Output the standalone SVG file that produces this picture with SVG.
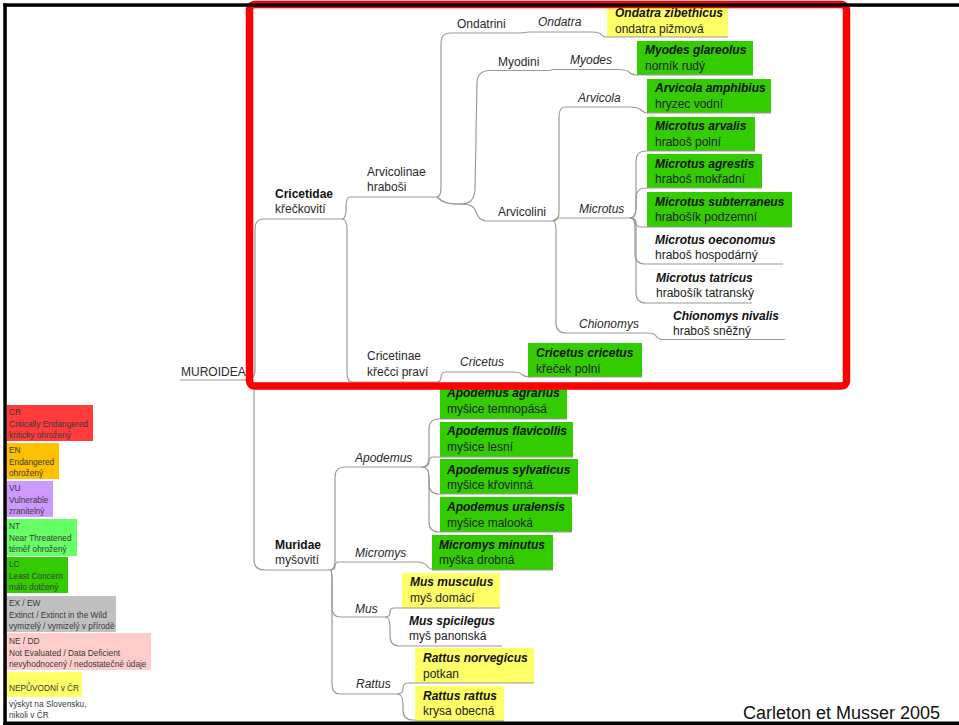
<svg xmlns="http://www.w3.org/2000/svg" width="959" height="725" viewBox="0 0 959 725">
<style>
.c{fill:none;stroke:#9a9a9a;stroke-width:1.2}
.u{stroke:#9a9a9a;stroke-width:1.2}
text{font-family:"Liberation Sans",Arial,sans-serif;font-size:12px;fill:#2a2a2a}
.sp{font-weight:bold;font-style:italic;fill:#111}
.cn{fill:#222}
.g{font-style:italic}
.b{font-weight:bold;fill:#111}
.lg{font-size:8.3px;fill:#3a3a3a}
.gr{fill:#33cc00}
.ye{fill:#ffff66}
</style>
<rect width="959" height="725" fill="#fff"/>

<g id="connectors">
<path class="c" d="M245,380 Q255,380 255,370 L255,229 Q255,219 263,219"/>
<path class="c" d="M245,380 Q254,380 254,390 L254,560 Q254,570 265,570"/>
<path class="c" d="M342,219 Q346,219 346,209 L346,207 Q346,197 350,197"/>
<path class="c" d="M342,219 Q347,219 347,229 L347,372 Q347,382 352,382"/>
<path class="c" d="M437,197 Q441,197 441,187 L441,43 Q441,33 450,33"/>
<path class="c" d="M437,197 C443,203 448,204 460,204 C470,204 474,200 475,190 L477,82 Q478,70.5 490,70.5"/>
<path class="c" d="M437,197 C443,203 448,204 460,204 C470,204 474,206 476,212 Q479,221 487,221"/>
<path class="c" d="M520,33 L530,32"/>
<path class="c" d="M592,32 Q599,32 601,34.5 Q603,37 607,37"/>
<path class="c" d="M550,70.5 L553,69.5"/>
<path class="c" d="M618,69.5 Q626,69.5 629,72 Q632,75 637,75"/>
<path class="c" d="M553,221 Q559,221 559,211 L559,117 Q559,107 565,107"/>
<path class="c" d="M553,221 Q556,218 559,218"/>
<path class="c" d="M553,221 Q556,221 556,231 L556,323 Q556,333 566,333 L570,333"/>
<path class="c" d="M630,107 Q638,107 641,110 Q644,113 648,113"/>
<path class="c" d="M630,218 Q636,218 636,208 L636,161 Q636,151 646,151 L647,151"/>
<path class="c" d="M630,218 Q636,218 636,208 L636,198 Q636,188 646,188 L647,188"/>
<path class="c" d="M630,218 Q636,218 636,222.5 Q636,227 640.5,227 L647,227"/>
<path class="c" d="M630,218 Q635,218 635,228 L635,254 Q635,264 645,264 L647,264"/>
<path class="c" d="M630,218 Q636,218 636,228 L636,293 Q636,303 646,303 L647,303"/>
<path class="c" d="M648,333 Q654,333 656,336 Q658,339.5 664,339.5"/>
<path class="c" d="M437,382 Q441,382 441,377 Q441,372 446,372"/>
<path class="c" d="M513,372 Q520,372 522,374.5 Q525,377 530,377"/>
<path class="c" d="M330,570 Q335,570 335,560 L335,477 Q335,467 345,467"/>
<path class="c" d="M330,570 Q335,570 335,566 Q335,562 339,562 L345,562"/>
<path class="c" d="M330,570 Q332,570 332,580 L332,607 Q332,617 340,617"/>
<path class="c" d="M330,570 Q332,570 332,580 L332,684 Q332,694 340,694"/>
<path class="c" d="M422,467 Q429,467 429,457 L429,429 Q429,419 439,419 L440,419"/>
<path class="c" d="M422,467 Q429,467 429,462 Q429,457 434,457 L440,457"/>
<path class="c" d="M422,467 Q429,467 429,477 L429,484 Q429,494 439,494 L440,494"/>
<path class="c" d="M422,467 Q429,467 429,477 L429,522 Q429,532 439,532 L440,532"/>
<path class="c" d="M417,562 Q424,562 427,566 Q430,570 437,570"/>
<path class="c" d="M385,617 Q390,617 390,612.5 Q390,608 394.5,608 L402,608"/>
<path class="c" d="M385,617 Q390,617 390,627 L390,636 Q390,646 400,646 L402,646"/>
<path class="c" d="M397,694 Q403,694 403,688.5 Q403,683 408.5,683 L415,683"/>
<path class="c" d="M397,694 Q403,694 403,704 L403,710 Q403,720 413,720 L415,720"/>
</g>

<g id="muroidea"><line class="u" x1="180" y1="380" x2="245" y2="380"/><text x="181" y="376">MUROIDEA</text></g>
<g id="cricetidae"><line class="u" x1="263" y1="219" x2="342" y2="219"/><text class="b" x="275" y="198">Cricetidae</text><text x="275" y="213">křečkovití</text></g>
<g id="muridae"><line class="u" x1="265" y1="570" x2="330" y2="570"/><text class="b" x="275" y="549">Muridae</text><text x="275" y="564">myšovití</text></g>
<g id="arvicolinae"><line class="u" x1="350" y1="197" x2="437" y2="197"/><text x="367" y="176">Arvicolinae</text><text x="367" y="191">hraboši</text></g>
<g id="cricetinae"><line class="u" x1="352" y1="382" x2="437" y2="382"/><text x="367" y="360">Cricetinae</text><text x="367" y="376">křečci praví</text></g>
<g id="ondatrini"><line class="u" x1="450" y1="33" x2="520" y2="33"/><text x="457" y="28">Ondatrini</text></g>
<g id="ondatra"><line class="u" x1="530" y1="32" x2="592" y2="32"/><text class="g" x="538" y="26">Ondatra</text></g>
<g id="myodini"><line class="u" x1="490" y1="70.5" x2="550" y2="70.5"/><text x="498" y="66">Myodini</text></g>
<g id="myodes"><line class="u" x1="553" y1="69.5" x2="618" y2="69.5"/><text class="g" x="570" y="64">Myodes</text></g>
<g id="arvicolini"><line class="u" x1="487" y1="221" x2="553" y2="221"/><text x="498" y="216">Arvicolini</text></g>
<g id="arvicola"><line class="u" x1="565" y1="107" x2="630" y2="107"/><text class="g" x="578" y="102">Arvicola</text></g>
<g id="microtus"><line class="u" x1="559" y1="218" x2="630" y2="218"/><text class="g" x="579" y="213">Microtus</text></g>
<g id="chionomys"><line class="u" x1="570" y1="333" x2="648" y2="333"/><text class="g" x="579" y="328">Chionomys</text></g>
<g id="cricetus"><line class="u" x1="446" y1="372" x2="513" y2="372"/><text class="g" x="460" y="366">Cricetus</text></g>
<g id="apodemus"><line class="u" x1="345" y1="467" x2="422" y2="467"/><text class="g" x="355" y="462">Apodemus</text></g>
<g id="micromys"><line class="u" x1="345" y1="562" x2="417" y2="562"/><text class="g" x="355" y="557">Micromys</text></g>
<g id="mus"><line class="u" x1="340" y1="617" x2="385" y2="617"/><text class="g" x="355" y="613">Mus</text></g>
<g id="rattus"><line class="u" x1="340" y1="694" x2="397" y2="694"/><text class="g" x="356" y="688">Rattus</text></g>

<g id="ondatra-zibethicus"><rect class="ye" x="607" y="6" width="121" height="31"/><line class="u" x1="607" y1="37" x2="728" y2="37"/><text class="sp" x="615" y="17">Ondatra zibethicus</text><text class="cn" x="615" y="33">ondatra pižmová</text></g>
<g id="myodes-glareolus"><rect class="gr" x="637" y="41" width="116" height="34"/><line class="u" x1="637" y1="75" x2="753" y2="75"/><text class="sp" x="645" y="54">Myodes glareolus</text><text class="cn" x="645" y="70">norník rudý</text></g>
<g id="arvicola-amphibius"><rect class="gr" x="647" y="79" width="124" height="34"/><line class="u" x1="647" y1="113" x2="771" y2="113"/><text class="sp" x="655" y="92">Arvicola amphibius</text><text class="cn" x="655" y="108">hryzec vodní</text></g>
<g id="microtus-arvalis"><rect class="gr" x="647" y="117" width="108" height="34"/><line class="u" x1="647" y1="151" x2="755" y2="151"/><text class="sp" x="655" y="130">Microtus arvalis</text><text class="cn" x="655" y="146">hraboš polní</text></g>
<g id="microtus-agrestis"><rect class="gr" x="647" y="154" width="115" height="34"/><line class="u" x1="647" y1="188" x2="762" y2="188"/><text class="sp" x="655" y="167.5">Microtus agrestis</text><text class="cn" x="655" y="183">hraboš mokřadní</text></g>
<g id="microtus-subterraneus"><rect class="gr" x="647" y="192" width="145" height="35"/><line class="u" x1="647" y1="227" x2="792" y2="227"/><text class="sp" x="655" y="205.5">Microtus subterraneus</text><text class="cn" x="655" y="221">hrabošík podzemní</text></g>
<g id="microtus-oeconomus"><line class="u" x1="647" y1="264" x2="783" y2="264"/><text class="sp" x="655" y="243.5">Microtus oeconomus</text><text class="cn" x="655" y="258.5">hraboš hospodárný</text></g>
<g id="microtus-tatricus"><line class="u" x1="647" y1="303" x2="752" y2="303"/><text class="sp" x="656" y="281.5">Microtus tatricus</text><text class="cn" x="656" y="297">hrabošík tatranský</text></g>
<g id="chionomys-nivalis"><line class="u" x1="660" y1="339.5" x2="785" y2="339.5"/><text class="sp" x="673" y="319.5">Chionomys nivalis</text><text class="cn" x="673" y="335">hraboš sněžný</text></g>
<g id="cricetus-cricetus"><rect class="gr" x="528" y="343" width="114" height="34"/><line class="u" x1="528" y1="377" x2="642" y2="377"/><text class="sp" x="536" y="357">Cricetus cricetus</text><text class="cn" x="536" y="372.5">křeček polní</text></g>
<g id="apodemus-agrarius"><rect class="gr" x="440" y="385" width="127" height="34"/><line class="u" x1="440" y1="419" x2="567" y2="419"/><text class="sp" x="447" y="397">Apodemus agrarius</text><text class="cn" x="447" y="413">myšice temnopásá</text></g>
<g id="apodemus-flavicollis"><rect class="gr" x="440" y="422" width="133" height="35"/><line class="u" x1="440" y1="457" x2="573" y2="457"/><text class="sp" x="447" y="435">Apodemus flavicollis</text><text class="cn" x="447" y="451">myšice lesní</text></g>
<g id="apodemus-sylvaticus"><rect class="gr" x="440" y="459" width="138" height="35"/><line class="u" x1="440" y1="494" x2="578" y2="494"/><text class="sp" x="447" y="473.5">Apodemus sylvaticus</text><text class="cn" x="447" y="488.5">myšice křovinná</text></g>
<g id="apodemus-uralensis"><rect class="gr" x="440" y="497" width="132" height="35"/><line class="u" x1="440" y1="532" x2="572" y2="532"/><text class="sp" x="447" y="511">Apodemus uralensis</text><text class="cn" x="447" y="527">myšice malooká</text></g>
<g id="micromys-minutus"><rect class="gr" x="432" y="535" width="121" height="35"/><line class="u" x1="432" y1="570" x2="553" y2="570"/><text class="sp" x="439" y="548.5">Micromys minutus</text><text class="cn" x="439" y="564">myška drobná</text></g>
<g id="mus-musculus"><rect class="ye" x="402" y="573" width="98" height="35"/><line class="u" x1="402" y1="608" x2="500" y2="608"/><text class="sp" x="410" y="586">Mus musculus</text><text class="cn" x="410" y="602">myš domácí</text></g>
<g id="mus-spicilegus"><line class="u" x1="402" y1="646" x2="502" y2="646"/><text class="sp" x="409" y="624.5">Mus spicilegus</text><text class="cn" x="409" y="640">myš panonská</text></g>
<g id="rattus-norvegicus"><rect class="ye" x="415" y="648" width="119" height="35"/><line class="u" x1="415" y1="683" x2="534" y2="683"/><text class="sp" x="423" y="662">Rattus norvegicus</text><text class="cn" x="423" y="677.5">potkan</text></g>
<g id="rattus-rattus"><rect class="ye" x="415" y="686" width="89" height="35"/><line class="u" x1="415" y1="721" x2="504" y2="721"/><text class="sp" x="423" y="699.5">Rattus rattus</text><text class="cn" x="423" y="715">krysa obecná</text></g>

<g id="legend">
<rect x="7" y="405" width="86" height="36" fill="#ff3b3b"/>
<text class="lg" x="9" y="415">CR</text><text class="lg" x="9" y="427">Critically Endangered</text><text class="lg" x="9" y="438">kriticky ohrožený</text>
<rect x="7" y="443" width="52" height="36" fill="#ffc000"/>
<text class="lg" x="9" y="453">EN</text><text class="lg" x="9" y="465">Endangered</text><text class="lg" x="9" y="476">ohrožený</text>
<rect x="7" y="481" width="46" height="36" fill="#cc99ff"/>
<text class="lg" x="9" y="491">VU</text><text class="lg" x="9" y="503">Vulnerable</text><text class="lg" x="9" y="514">zranitelný</text>
<rect x="7" y="519" width="70" height="37" fill="#66ff66"/>
<text class="lg" x="9" y="529">NT</text><text class="lg" x="9" y="541">Near Threatened</text><text class="lg" x="9" y="552">téměř ohrožený</text>
<rect x="7" y="557" width="61" height="36" fill="#33cc00"/>
<text class="lg" x="9" y="567">LC</text><text class="lg" x="9" y="579">Least Concern</text><text class="lg" x="9" y="590">málo dotčený</text>
<rect x="7" y="596" width="109" height="36" fill="#c0c0c0"/>
<text class="lg" x="9" y="606">EX / EW</text><text class="lg" x="9" y="618">Extinct / Extinct in the Wild</text><text class="lg" x="9" y="629">vymizelý / vymizelý v přírodě</text>
<rect x="7" y="633" width="144" height="37" fill="#ffcccc"/>
<text class="lg" x="9" y="644">NE / DD</text><text class="lg" x="9" y="656">Not Evaluated / Data Deficient</text><text class="lg" x="9" y="667">nevyhodnocený / nedostatečné údaje</text>
<rect x="7" y="672" width="75" height="25" fill="#ffff66"/>
<text class="lg" x="9" y="691">NEPŮVODNÍ v ČR</text>
<text class="lg" x="9" y="707">výskyt na Slovensku,</text><text class="lg" x="9" y="718">nikoli v ČR</text>
</g>

<text x="743" y="719" style="font-size:18px;fill:#111">Carleton et Musser 2005</text>

<rect x="249.5" y="4.5" width="597" height="381.5" rx="5" fill="none" stroke="#ff0000" stroke-width="7.5"/>
<g id="frame" fill="#000">
<rect x="3.3" y="3.3" width="955.7" height="3.5"/>
<rect x="3.3" y="3.3" width="3.5" height="721.7"/>
<rect x="3.3" y="721.5" width="955.7" height="3.5"/>
</g>
</svg>
